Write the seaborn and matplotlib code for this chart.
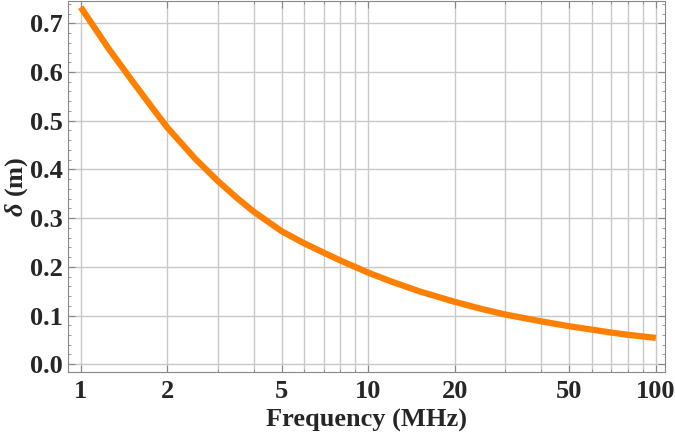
import numpy as np
import pandas as pd
import seaborn as sns
import matplotlib.pyplot as plt
from matplotlib.ticker import FixedLocator, FixedFormatter, MultipleLocator, FormatStrFormatter

# skin depth
freq_mhz = [1, 1.25, 1.5, 1.75, 2, 2.5, 3, 3.5, 4, 5, 6, 7, 8, 10, 12, 15,
            20, 25, 30, 35, 40, 50, 60, 70, 80, 100]
depth_m = [0.733, 0.648, 0.584, 0.531, 0.486, 0.422, 0.376, 0.341, 0.313,
           0.273, 0.248, 0.229, 0.213, 0.188, 0.170, 0.150, 0.128, 0.113,
           0.102, 0.0945, 0.088, 0.078, 0.071, 0.065, 0.0605, 0.054]

x_ticks = [1, 2, 5, 10, 20, 50, 100]
x_tick_labels = ["1", "2", "5", "10", "20", "50", "100"]

df = pd.DataFrame({"freq": freq_mhz, "depth": depth_m})

sns.set_style("ticks")
plt.rcParams["font.family"] = ["Liberation Serif", "DejaVu Serif"]
plt.rcParams["font.weight"] = "bold"
plt.rcParams["mathtext.fontset"] = "custom"
plt.rcParams["mathtext.it"] = "Liberation Serif:italic:bold"
plt.rcParams["mathtext.rm"] = "Liberation Serif:bold"

fig = plt.figure(figsize=(6.75, 4.34), dpi=100)
ax = fig.add_axes([0.1007, 0.143, 0.8843, 0.855])

sns.lineplot(data=df, x="freq", y="depth", ax=ax, color="#ff8000",
             linewidth=4.5, solid_capstyle="butt", solid_joinstyle="round")

ax.set_xscale("log")
ax.set_xlim(0.903, 107.5)
ax.set_ylim(-0.0158, 0.746)

ax.xaxis.set_major_locator(FixedLocator(x_ticks))
ax.xaxis.set_major_formatter(FixedFormatter(x_tick_labels))
minor = [m * d for d in (1, 10) for m in range(2, 10)]
ax.xaxis.set_minor_locator(FixedLocator([v for v in minor if v not in x_ticks]))
ax.xaxis.set_minor_formatter(FixedFormatter([]))
ax.yaxis.set_major_locator(MultipleLocator(0.1))
ax.yaxis.set_minor_locator(MultipleLocator(0.02))
ax.yaxis.set_major_formatter(FormatStrFormatter("%.1f"))

ax.grid(True, which="major", color="#c8c8c8", linewidth=1.0)
ax.grid(True, which="minor", axis="x", color="#c8c8c8", linewidth=1.0)
ax.set_axisbelow(True)

ax.tick_params(which="both", direction="in", top=True, right=True,
               color="#888888", labelsize=19)
ax.tick_params(axis="y", pad=3.5)
ax.tick_params(axis="x", pad=6)
ax.tick_params(which="major", length=5, width=0.8)
ax.tick_params(which="minor", length=2.5, width=0.6)
for s in ax.spines.values():
    s.set_color("#888888")
    s.set_linewidth(0.8)

ax.set_xlabel("Frequency (MHz)", fontsize=19, fontweight="bold", labelpad=4)
ax.set_ylabel(r"$\delta$ (m)", fontsize=19, fontweight="bold")
ax.yaxis.set_label_coords(-0.064, 0.5)

fig.savefig("out.png", dpi=100)
